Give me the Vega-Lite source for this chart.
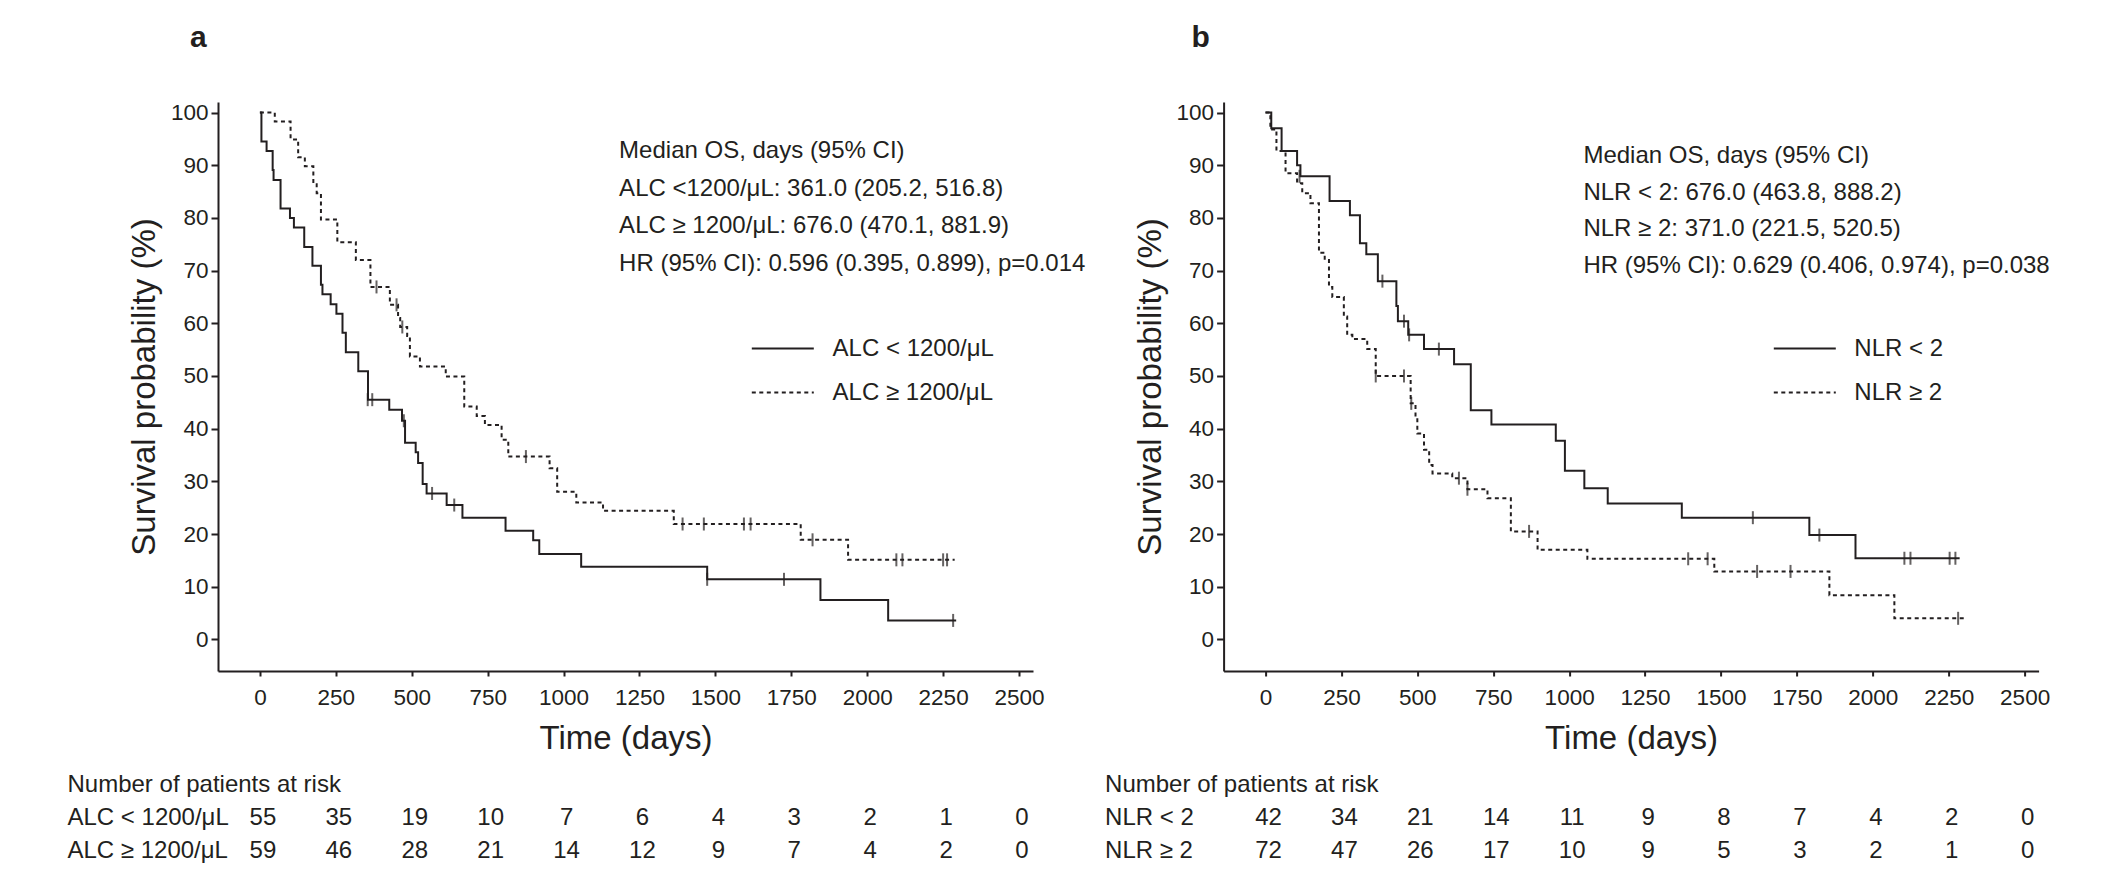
{
  "$schema": "https://vega.github.io/schema/vega-lite/v6.json",
  "description": "Kaplan-Meier overall survival by ALC and by NLR, with numbers at risk.",
  "background": "white",
  "padding": {"left": 67, "top": 22, "right": 10, "bottom": 10},
  "config": {
    "font": "Liberation Sans",
    "view": {"stroke": null},
    "axis": {
      "grid": false,
      "domainColor": "#231f20", "domainWidth": 2,
      "tickColor": "#231f20", "tickWidth": 2,
      "labelColor": "#231f20", "labelFontSize": 22.5, "labelFont": "Liberation Sans",
      "titleColor": "#231f20", "titleFontSize": 33, "titleFontWeight": "normal", "titleFont": "Liberation Sans"
    },
    "legend": {"labelFont": "Liberation Sans"},
    "title": {"font": "Liberation Sans"}
  },
  "datasets": {
    "curvesA": [
      {"group": "ALC < 1200/μL", "t": 0, "s": 100}, {"group": "ALC < 1200/μL", "t": 5, "s": 94.5},
      {"group": "ALC < 1200/μL", "t": 22, "s": 92.7}, {"group": "ALC < 1200/μL", "t": 42, "s": 89.1},
      {"group": "ALC < 1200/μL", "t": 45, "s": 87.2}, {"group": "ALC < 1200/μL", "t": 68, "s": 81.8},
      {"group": "ALC < 1200/μL", "t": 99, "s": 80.0}, {"group": "ALC < 1200/μL", "t": 112, "s": 78.2},
      {"group": "ALC < 1200/μL", "t": 146, "s": 74.5}, {"group": "ALC < 1200/μL", "t": 173, "s": 70.9},
      {"group": "ALC < 1200/μL", "t": 201, "s": 67.3}, {"group": "ALC < 1200/μL", "t": 206, "s": 65.5},
      {"group": "ALC < 1200/μL", "t": 233, "s": 63.6}, {"group": "ALC < 1200/μL", "t": 252, "s": 61.8},
      {"group": "ALC < 1200/μL", "t": 272, "s": 58.2}, {"group": "ALC < 1200/μL", "t": 283, "s": 54.5},
      {"group": "ALC < 1200/μL", "t": 324, "s": 50.9}, {"group": "ALC < 1200/μL", "t": 356, "s": 45.5},
      {"group": "ALC < 1200/μL", "t": 426, "s": 43.6}, {"group": "ALC < 1200/μL", "t": 468, "s": 41.5},
      {"group": "ALC < 1200/μL", "t": 478, "s": 37.3}, {"group": "ALC < 1200/μL", "t": 513, "s": 35.5},
      {"group": "ALC < 1200/μL", "t": 521, "s": 33.5}, {"group": "ALC < 1200/μL", "t": 536, "s": 29.5},
      {"group": "ALC < 1200/μL", "t": 549, "s": 27.7}, {"group": "ALC < 1200/μL", "t": 615, "s": 25.5},
      {"group": "ALC < 1200/μL", "t": 667, "s": 23.1}, {"group": "ALC < 1200/μL", "t": 809, "s": 20.6},
      {"group": "ALC < 1200/μL", "t": 900, "s": 18.8}, {"group": "ALC < 1200/μL", "t": 920, "s": 16.2},
      {"group": "ALC < 1200/μL", "t": 1058, "s": 13.8}, {"group": "ALC < 1200/μL", "t": 1473, "s": 11.4},
      {"group": "ALC < 1200/μL", "t": 1846, "s": 7.5}, {"group": "ALC < 1200/μL", "t": 2069, "s": 3.6},
      {"group": "ALC < 1200/μL", "t": 2293, "s": 3.6},
      {"group": "ALC ≥ 1200/μL", "t": 0, "s": 100}, {"group": "ALC ≥ 1200/μL", "t": 49, "s": 98.3},
      {"group": "ALC ≥ 1200/μL", "t": 101, "s": 94.9}, {"group": "ALC ≥ 1200/μL", "t": 126, "s": 91.5},
      {"group": "ALC ≥ 1200/μL", "t": 148, "s": 89.8}, {"group": "ALC ≥ 1200/μL", "t": 176, "s": 86.4},
      {"group": "ALC ≥ 1200/μL", "t": 187, "s": 84.7}, {"group": "ALC ≥ 1200/μL", "t": 201, "s": 79.7},
      {"group": "ALC ≥ 1200/μL", "t": 255, "s": 75.4}, {"group": "ALC ≥ 1200/μL", "t": 316, "s": 72.0},
      {"group": "ALC ≥ 1200/μL", "t": 364, "s": 66.9}, {"group": "ALC ≥ 1200/μL", "t": 428, "s": 63.5},
      {"group": "ALC ≥ 1200/μL", "t": 455, "s": 61.0}, {"group": "ALC ≥ 1200/μL", "t": 462, "s": 59.3},
      {"group": "ALC ≥ 1200/μL", "t": 485, "s": 57.6}, {"group": "ALC ≥ 1200/μL", "t": 494, "s": 53.7},
      {"group": "ALC ≥ 1200/μL", "t": 527, "s": 51.8}, {"group": "ALC ≥ 1200/μL", "t": 612, "s": 49.9},
      {"group": "ALC ≥ 1200/μL", "t": 673, "s": 44.2}, {"group": "ALC ≥ 1200/μL", "t": 714, "s": 42.4},
      {"group": "ALC ≥ 1200/μL", "t": 741, "s": 40.7}, {"group": "ALC ≥ 1200/μL", "t": 796, "s": 37.9},
      {"group": "ALC ≥ 1200/μL", "t": 818, "s": 34.7}, {"group": "ALC ≥ 1200/μL", "t": 954, "s": 32.5},
      {"group": "ALC ≥ 1200/μL", "t": 979, "s": 28.0}, {"group": "ALC ≥ 1200/μL", "t": 1042, "s": 26.0},
      {"group": "ALC ≥ 1200/μL", "t": 1130, "s": 24.4}, {"group": "ALC ≥ 1200/μL", "t": 1363, "s": 21.9},
      {"group": "ALC ≥ 1200/μL", "t": 1781, "s": 18.9}, {"group": "ALC ≥ 1200/μL", "t": 1937, "s": 15.1},
      {"group": "ALC ≥ 1200/μL", "t": 2288, "s": 15.1}
    ],
    "censorA": [
      {"t": 355, "s": 45.5}, {"t": 370, "s": 45.5}, {"t": 474, "s": 41.5}, {"t": 567, "s": 27.7},
      {"t": 640, "s": 25.5}, {"t": 1473, "s": 11.4}, {"t": 1726, "s": 11.4}, {"t": 2283, "s": 3.6},
      {"t": 384, "s": 66.9}, {"t": 450, "s": 63.5}, {"t": 469, "s": 59.3}, {"t": 876, "s": 34.7},
      {"t": 1392, "s": 21.9}, {"t": 1462, "s": 21.9}, {"t": 1594, "s": 21.9}, {"t": 1616, "s": 21.9},
      {"t": 1820, "s": 18.9}, {"t": 2096, "s": 15.1}, {"t": 2116, "s": 15.1}, {"t": 2250, "s": 15.1},
      {"t": 2263, "s": 15.1}
    ],
    "curvesB": [
      {"group": "NLR < 2", "t": 0, "s": 100}, {"group": "NLR < 2", "t": 19, "s": 97.0},
      {"group": "NLR < 2", "t": 53, "s": 92.7}, {"group": "NLR < 2", "t": 104, "s": 90.0},
      {"group": "NLR < 2", "t": 115, "s": 87.9}, {"group": "NLR < 2", "t": 211, "s": 83.2},
      {"group": "NLR < 2", "t": 278, "s": 80.5}, {"group": "NLR < 2", "t": 311, "s": 75.2},
      {"group": "NLR < 2", "t": 332, "s": 73.1}, {"group": "NLR < 2", "t": 370, "s": 68.0},
      {"group": "NLR < 2", "t": 431, "s": 63.3}, {"group": "NLR < 2", "t": 436, "s": 60.4},
      {"group": "NLR < 2", "t": 470, "s": 57.8}, {"group": "NLR < 2", "t": 522, "s": 55.1},
      {"group": "NLR < 2", "t": 621, "s": 52.2}, {"group": "NLR < 2", "t": 676, "s": 43.5},
      {"group": "NLR < 2", "t": 744, "s": 40.8}, {"group": "NLR < 2", "t": 956, "s": 37.7},
      {"group": "NLR < 2", "t": 986, "s": 32.0}, {"group": "NLR < 2", "t": 1050, "s": 28.7},
      {"group": "NLR < 2", "t": 1127, "s": 25.8}, {"group": "NLR < 2", "t": 1371, "s": 23.1},
      {"group": "NLR < 2", "t": 1791, "s": 19.8}, {"group": "NLR < 2", "t": 1943, "s": 15.4},
      {"group": "NLR < 2", "t": 2286, "s": 15.4},
      {"group": "NLR ≥ 2", "t": 0, "s": 100}, {"group": "NLR ≥ 2", "t": 16, "s": 96.8},
      {"group": "NLR ≥ 2", "t": 36, "s": 92.7}, {"group": "NLR ≥ 2", "t": 66, "s": 88.5},
      {"group": "NLR ≥ 2", "t": 104, "s": 86.6}, {"group": "NLR ≥ 2", "t": 121, "s": 84.7},
      {"group": "NLR ≥ 2", "t": 148, "s": 82.8}, {"group": "NLR ≥ 2", "t": 176, "s": 73.4},
      {"group": "NLR ≥ 2", "t": 195, "s": 72.0}, {"group": "NLR ≥ 2", "t": 209, "s": 66.9},
      {"group": "NLR ≥ 2", "t": 220, "s": 65.0}, {"group": "NLR ≥ 2", "t": 258, "s": 61.3},
      {"group": "NLR ≥ 2", "t": 269, "s": 57.8}, {"group": "NLR ≥ 2", "t": 286, "s": 57.0},
      {"group": "NLR ≥ 2", "t": 335, "s": 55.1}, {"group": "NLR ≥ 2", "t": 363, "s": 50.0},
      {"group": "NLR ≥ 2", "t": 478, "s": 44.8}, {"group": "NLR ≥ 2", "t": 494, "s": 42.0},
      {"group": "NLR ≥ 2", "t": 500, "s": 39.1}, {"group": "NLR ≥ 2", "t": 522, "s": 36.0},
      {"group": "NLR ≥ 2", "t": 539, "s": 33.1}, {"group": "NLR ≥ 2", "t": 550, "s": 31.5},
      {"group": "NLR ≥ 2", "t": 615, "s": 30.6}, {"group": "NLR ≥ 2", "t": 665, "s": 28.5},
      {"group": "NLR ≥ 2", "t": 731, "s": 26.8}, {"group": "NLR ≥ 2", "t": 808, "s": 20.5},
      {"group": "NLR ≥ 2", "t": 896, "s": 17.0}, {"group": "NLR ≥ 2", "t": 1060, "s": 15.3},
      {"group": "NLR ≥ 2", "t": 1478, "s": 12.9}, {"group": "NLR ≥ 2", "t": 1857, "s": 8.4},
      {"group": "NLR ≥ 2", "t": 2071, "s": 4.0}, {"group": "NLR ≥ 2", "t": 2300, "s": 4.0}
    ],
    "censorB": [
      {"t": 112, "s": 87.9}, {"t": 385, "s": 68.0}, {"t": 456, "s": 60.4}, {"t": 473, "s": 57.8},
      {"t": 571, "s": 55.1}, {"t": 1605, "s": 23.1}, {"t": 1824, "s": 19.8}, {"t": 2104, "s": 15.4},
      {"t": 2124, "s": 15.4}, {"t": 2253, "s": 15.4}, {"t": 2272, "s": 15.4},
      {"t": 363, "s": 50.0}, {"t": 456, "s": 50.0}, {"t": 480, "s": 44.8}, {"t": 637, "s": 30.6},
      {"t": 665, "s": 28.5}, {"t": 868, "s": 20.5}, {"t": 1392, "s": 15.3}, {"t": 1456, "s": 15.3},
      {"t": 1619, "s": 12.9}, {"t": 1729, "s": 12.9}, {"t": 2281, "s": 4.0}
    ],
    "riskA": [
      {"group": "ALC < 1200/μL", "t": 0, "n": 55}, {"group": "ALC < 1200/μL", "t": 250, "n": 35},
      {"group": "ALC < 1200/μL", "t": 500, "n": 19}, {"group": "ALC < 1200/μL", "t": 750, "n": 10},
      {"group": "ALC < 1200/μL", "t": 1000, "n": 7}, {"group": "ALC < 1200/μL", "t": 1250, "n": 6},
      {"group": "ALC < 1200/μL", "t": 1500, "n": 4}, {"group": "ALC < 1200/μL", "t": 1750, "n": 3},
      {"group": "ALC < 1200/μL", "t": 2000, "n": 2}, {"group": "ALC < 1200/μL", "t": 2250, "n": 1},
      {"group": "ALC < 1200/μL", "t": 2500, "n": 0},
      {"group": "ALC ≥ 1200/μL", "t": 0, "n": 59}, {"group": "ALC ≥ 1200/μL", "t": 250, "n": 46},
      {"group": "ALC ≥ 1200/μL", "t": 500, "n": 28}, {"group": "ALC ≥ 1200/μL", "t": 750, "n": 21},
      {"group": "ALC ≥ 1200/μL", "t": 1000, "n": 14}, {"group": "ALC ≥ 1200/μL", "t": 1250, "n": 12},
      {"group": "ALC ≥ 1200/μL", "t": 1500, "n": 9}, {"group": "ALC ≥ 1200/μL", "t": 1750, "n": 7},
      {"group": "ALC ≥ 1200/μL", "t": 2000, "n": 4}, {"group": "ALC ≥ 1200/μL", "t": 2250, "n": 2},
      {"group": "ALC ≥ 1200/μL", "t": 2500, "n": 0}
    ],
    "riskB": [
      {"group": "NLR < 2", "t": 0, "n": 42}, {"group": "NLR < 2", "t": 250, "n": 34},
      {"group": "NLR < 2", "t": 500, "n": 21}, {"group": "NLR < 2", "t": 750, "n": 14},
      {"group": "NLR < 2", "t": 1000, "n": 11}, {"group": "NLR < 2", "t": 1250, "n": 9},
      {"group": "NLR < 2", "t": 1500, "n": 8}, {"group": "NLR < 2", "t": 1750, "n": 7},
      {"group": "NLR < 2", "t": 2000, "n": 4}, {"group": "NLR < 2", "t": 2250, "n": 2},
      {"group": "NLR < 2", "t": 2500, "n": 0},
      {"group": "NLR ≥ 2", "t": 0, "n": 72}, {"group": "NLR ≥ 2", "t": 250, "n": 47},
      {"group": "NLR ≥ 2", "t": 500, "n": 26}, {"group": "NLR ≥ 2", "t": 750, "n": 17},
      {"group": "NLR ≥ 2", "t": 1000, "n": 10}, {"group": "NLR ≥ 2", "t": 1250, "n": 9},
      {"group": "NLR ≥ 2", "t": 1500, "n": 5}, {"group": "NLR ≥ 2", "t": 1750, "n": 3},
      {"group": "NLR ≥ 2", "t": 2000, "n": 2}, {"group": "NLR ≥ 2", "t": 2250, "n": 1},
      {"group": "NLR ≥ 2", "t": 2500, "n": 0}
    ]
  },
  "columns": 2,
  "bounds": "flush",
  "spacing": {"row": 97, "column": 190.6},
  "resolve": {
    "scale": {"x": "independent", "y": "independent", "strokeDash": "independent"},
    "legend": {"strokeDash": "independent"}
  },
  "concat": [
    {
      "width": 815,
      "height": 569,
      "title": {"text": "a", "anchor": "start", "frame": "group", "dx": -28, "offset": 24.7, "baseline": "alphabetic", "fontSize": 30, "fontWeight": "bold", "color": "#231f20"},
      "layer": [
        {
          "data": {"name": "curvesA"},
          "mark": {"type": "line", "interpolate": "step-after", "strokeWidth": 2, "color": "#231f20"},
          "encoding": {
            "x": {
              "field": "t", "type": "quantitative",
              "scale": {"domain": [-138, 2546], "nice": false, "zero": false},
              "axis": {"title": "Time (days)", "format": "d", "values": [0, 250, 500, 750, 1000, 1250, 1500, 1750, 2000, 2250, 2500], "tickSize": 5, "labelPadding": 10, "titlePadding": 14}
            },
            "y": {
              "field": "s", "type": "quantitative",
              "scale": {"domain": [-6, 102], "nice": false, "zero": false},
              "axis": {"title": "Survival probability (%)", "values": [0, 10, 20, 30, 40, 50, 60, 70, 80, 90, 100], "tickSize": 7, "labelPadding": 3, "titlePadding": 9}
            },
            "strokeDash": {
              "field": "group", "type": "nominal",
              "scale": {"domain": ["ALC < 1200/μL", "ALC ≥ 1200/μL"], "range": [[1, 0], [4, 3.5]]},
              "legend": {"orient": "none", "legendX": 532.8, "legendY": 214.6, "title": null, "symbolType": "stroke", "symbolSize": 3844, "symbolStrokeWidth": 2, "symbolStrokeColor": "#231f20", "labelFontSize": 24, "labelColor": "#231f20", "labelOffset": 17.8, "rowPadding": -26, "padding": 0, "labelLimit": 0}
            }
          }
        },
        {
          "data": {"name": "censorA"},
          "mark": {"type": "tick", "orient": "vertical", "size": 13, "thickness": 2, "color": "#231f20"},
          "encoding": {
            "x": {"field": "t", "type": "quantitative"},
            "y": {"field": "s", "type": "quantitative"}
          }
        },
        {
          "data": {"values": [{}]},
          "mark": {"type": "text", "align": "left", "baseline": "alphabetic", "fontSize": 24, "lineHeight": 37.5, "color": "#231f20"},
          "encoding": {
            "x": {"datum": 1183},
            "y": {"datum": 91.3},
            "text": {"value": ["Median OS, days (95% CI)", "ALC <1200/μL: 361.0 (205.2, 516.8)", "ALC ≥ 1200/μL: 676.0 (470.1, 881.9)", "HR (95% CI): 0.596 (0.395, 0.899), p=0.014"]}
          }
        }
      ]
    },
    {
      "width": 815,
      "height": 569,
      "title": {"text": "b", "anchor": "start", "frame": "group", "dx": -32, "offset": 24.7, "baseline": "alphabetic", "fontSize": 30, "fontWeight": "bold", "color": "#231f20"},
      "layer": [
        {
          "data": {"name": "curvesB"},
          "mark": {"type": "line", "interpolate": "step-after", "strokeWidth": 2, "color": "#231f20"},
          "encoding": {
            "x": {
              "field": "t", "type": "quantitative",
              "scale": {"domain": [-138, 2546], "nice": false, "zero": false},
              "axis": {"title": "Time (days)", "format": "d", "values": [0, 250, 500, 750, 1000, 1250, 1500, 1750, 2000, 2250, 2500], "tickSize": 5, "labelPadding": 10, "titlePadding": 14}
            },
            "y": {
              "field": "s", "type": "quantitative",
              "scale": {"domain": [-6, 102], "nice": false, "zero": false},
              "axis": {"title": "Survival probability (%)", "values": [0, 10, 20, 30, 40, 50, 60, 70, 80, 90, 100], "tickSize": 7, "labelPadding": 3, "titlePadding": 9}
            },
            "strokeDash": {
              "field": "group", "type": "nominal",
              "scale": {"domain": ["NLR < 2", "NLR ≥ 2"], "range": [[1, 0], [4, 3.5]]},
              "legend": {"orient": "none", "legendX": 549.2, "legendY": 214.6, "title": null, "symbolType": "stroke", "symbolSize": 3844, "symbolStrokeWidth": 2, "symbolStrokeColor": "#231f20", "labelFontSize": 24, "labelColor": "#231f20", "labelOffset": 17.5, "rowPadding": -26, "padding": 0, "labelLimit": 0}
            }
          }
        },
        {
          "data": {"name": "censorB"},
          "mark": {"type": "tick", "orient": "vertical", "size": 13, "thickness": 2, "color": "#231f20"},
          "encoding": {
            "x": {"field": "t", "type": "quantitative"},
            "y": {"field": "s", "type": "quantitative"}
          }
        },
        {
          "data": {"values": [{}]},
          "mark": {"type": "text", "align": "left", "baseline": "alphabetic", "fontSize": 24, "lineHeight": 36.5, "color": "#231f20"},
          "encoding": {
            "x": {"datum": 1047},
            "y": {"datum": 90.4},
            "text": {"value": ["Median OS, days (95% CI)", "NLR < 2: 676.0 (463.8, 888.2)", "NLR ≥ 2: 371.0 (221.5, 520.5)", "HR (95% CI): 0.629 (0.406, 0.974), p=0.038"]}
          }
        }
      ]
    },
    {
      "width": 815,
      "height": 99,
      "data": {"name": "riskA"},
      "mark": {"type": "text", "fontSize": 24, "color": "#231f20", "dx": 3},
      "encoding": {
        "x": {"field": "t", "type": "quantitative", "scale": {"domain": [-138, 2546], "nice": false, "zero": false}, "axis": null},
        "y": {
          "field": "group", "type": "nominal",
          "scale": {"type": "point", "domain": ["Number of patients at risk", "ALC < 1200/μL", "ALC ≥ 1200/μL"], "padding": 0.5},
          "axis": {"title": null, "domain": false, "ticks": false, "tickSize": 0, "labelAlign": "left", "labelPadding": 151, "labelLimit": 0, "labelFontSize": 24}
        },
        "text": {"field": "n", "type": "nominal"}
      }
    },
    {
      "width": 815,
      "height": 99,
      "data": {"name": "riskB"},
      "mark": {"type": "text", "fontSize": 24, "color": "#231f20", "dx": 3},
      "encoding": {
        "x": {"field": "t", "type": "quantitative", "scale": {"domain": [-138, 2546], "nice": false, "zero": false}, "axis": null},
        "y": {
          "field": "group", "type": "nominal",
          "scale": {"type": "point", "domain": ["Number of patients at risk", "NLR < 2", "NLR ≥ 2"], "padding": 0.5},
          "axis": {"title": null, "domain": false, "ticks": false, "tickSize": 0, "labelAlign": "left", "labelPadding": 119, "labelLimit": 0, "labelFontSize": 24}
        },
        "text": {"field": "n", "type": "nominal"}
      }
    }
  ]
}
